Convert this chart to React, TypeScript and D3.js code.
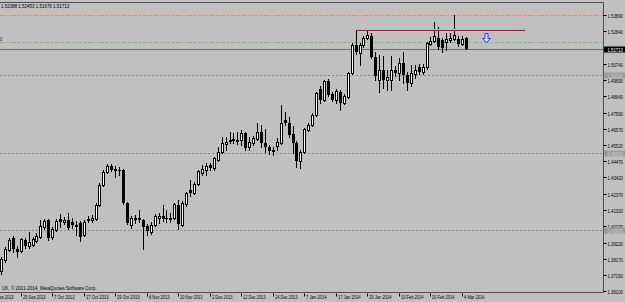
import { useRef, useEffect } from 'react';
import * as d3 from 'd3';

// trading calendar (daily bars)
const firstDay = '2013-09-13';
const lastDay = '2014-03-05';
const holidays = ['2013-12-25', '2014-01-01'];
const firstCandleDay = 3; // candles start on 18 Sep 2013
const labelEvery = 8;

const open = [
  1.3738, 1.3809, 1.3873, 1.3951, 1.3880, 1.3867, 1.3938, 1.3899, 1.3906, 1.3931,
  1.3957, 1.4022, 1.4067, 1.3957, 1.4002, 1.4073, 1.4054, 1.4067, 1.4054, 1.4035,
  1.4047, 1.3970, 1.4067, 1.4067, 1.4073, 1.4164, 1.4293, 1.4376, 1.4415, 1.4396,
  1.4389, 1.4389, 1.4176, 1.4035, 1.4073, 1.4080, 1.4067, 1.4028, 1.3989, 1.4035,
  1.4080, 1.4093, 1.4080, 1.4073, 1.4080, 1.4164, 1.4035, 1.4170, 1.4260, 1.4241,
  1.4299, 1.4370, 1.4389, 1.4422, 1.4402, 1.4454, 1.4505, 1.4557, 1.4576, 1.4589,
  1.4576, 1.4583, 1.4628, 1.4538, 1.4563, 1.4589, 1.4634, 1.4563, 1.4538, 1.4518,
  1.4544, 1.4563, 1.4712, 1.4692, 1.4622, 1.4563, 1.4447, 1.4505, 1.4647, 1.4680,
  1.4744, 1.4912, 1.4841, 1.4963, 1.4880, 1.4841, 1.4892, 1.4821, 1.4860, 1.5015,
  1.5196, 1.5144, 1.5196, 1.5241, 1.5254, 1.5118, 1.4970, 1.5034, 1.4970, 1.4970,
  1.5034, 1.5015, 1.5079, 1.5002, 1.4950, 1.5008, 1.5054, 1.5021, 1.5054, 1.5202,
  1.5221, 1.5241, 1.5228, 1.5215, 1.5228, 1.5234, 1.5234, 1.5202, 1.52388
];
const high = [
  1.3828, 1.3893, 1.3951, 1.3964, 1.3899, 1.3951, 1.3951, 1.3989, 1.3957, 1.3983,
  1.4067, 1.4073, 1.4073, 1.4022, 1.4073, 1.4106, 1.4086, 1.4112, 1.4080, 1.4060,
  1.4060, 1.4067, 1.4093, 1.4099, 1.4176, 1.4305, 1.4389, 1.4428, 1.4428, 1.4415,
  1.4409, 1.4396, 1.4183, 1.4093, 1.4099, 1.4131, 1.4073, 1.4041, 1.4054, 1.4106,
  1.4112, 1.4164, 1.4131, 1.4112, 1.4176, 1.4196, 1.4189, 1.4247, 1.4325, 1.4312,
  1.4389, 1.4422, 1.4434, 1.4434, 1.4473, 1.4538, 1.4602, 1.4602, 1.4634, 1.4628,
  1.4634, 1.4647, 1.4634, 1.4602, 1.4609, 1.4692, 1.4680, 1.4654, 1.4551, 1.4538,
  1.4596, 1.4809, 1.4763, 1.4731, 1.4673, 1.4576, 1.4518, 1.4660, 1.4692, 1.4757,
  1.4892, 1.4931, 1.4970, 1.4976, 1.4892, 1.4912, 1.4905, 1.4880, 1.5021, 1.5208,
  1.5292, 1.5208, 1.5254, 1.5292, 1.5273, 1.5150, 1.5131, 1.5125, 1.5034, 1.5125,
  1.5060, 1.5112, 1.5150, 1.5021, 1.5067, 1.5067, 1.5073, 1.5073, 1.5215, 1.5247,
  1.5344, 1.5312, 1.5241, 1.5273, 1.5273, 1.5389, 1.5254, 1.5254, 1.52453
];
const low = [
  1.3718, 1.3796, 1.3867, 1.3860, 1.3828, 1.3860, 1.3886, 1.3886, 1.3899, 1.3925,
  1.3951, 1.4009, 1.3938, 1.3944, 1.3996, 1.4022, 1.4041, 1.4009, 1.4015, 1.3970,
  1.3931, 1.3964, 1.4054, 1.4054, 1.4067, 1.4157, 1.4286, 1.4370, 1.4383, 1.4344,
  1.4357, 1.4170, 1.4041, 1.4015, 1.4047, 1.4054, 1.3880, 1.3970, 1.3976, 1.4028,
  1.4047, 1.4060, 1.4054, 1.4054, 1.4073, 1.4009, 1.4028, 1.4157, 1.4222, 1.4235,
  1.4293, 1.4357, 1.4357, 1.4389, 1.4389, 1.4447, 1.4499, 1.4518, 1.4563, 1.4563,
  1.4557, 1.4551, 1.4518, 1.4518, 1.4551, 1.4583, 1.4538, 1.4505, 1.4493, 1.4486,
  1.4518, 1.4557, 1.4680, 1.4602, 1.4499, 1.4409, 1.4402, 1.4499, 1.4641, 1.4673,
  1.4738, 1.4821, 1.4834, 1.4867, 1.4834, 1.4821, 1.4776, 1.4815, 1.4854, 1.5008,
  1.5137, 1.5067, 1.5183, 1.5234, 1.5112, 1.4970, 1.4892, 1.4918, 1.4905, 1.4905,
  1.4996, 1.4970, 1.4950, 1.4905, 1.4931, 1.4983, 1.5008, 1.5008, 1.5041, 1.5196,
  1.5215, 1.5170, 1.5150, 1.5163, 1.5215, 1.5228, 1.5189, 1.5196, 1.51679
];
const close = [
  1.3815, 1.3880, 1.3938, 1.3880, 1.3860, 1.3944, 1.3899, 1.3925, 1.3944, 1.3964,
  1.4028, 1.4060, 1.3951, 1.4009, 1.4060, 1.4054, 1.4067, 1.4015, 1.4035, 1.4022,
  1.3957, 1.4054, 1.4073, 1.4080, 1.4164, 1.4293, 1.4376, 1.4415, 1.4389, 1.4383,
  1.4383, 1.4176, 1.4047, 1.4080, 1.4080, 1.4067, 1.4022, 1.3996, 1.4035, 1.4093,
  1.4093, 1.4073, 1.4073, 1.4080, 1.4170, 1.4041, 1.4176, 1.4241, 1.4241, 1.4299,
  1.4383, 1.4396, 1.4415, 1.4402, 1.4467, 1.4505, 1.4563, 1.4570, 1.4583, 1.4576,
  1.4583, 1.4628, 1.4531, 1.4570, 1.4596, 1.4634, 1.4563, 1.4538, 1.4512, 1.4505,
  1.4570, 1.4692, 1.4692, 1.4615, 1.4563, 1.4447, 1.4505, 1.4654, 1.4680, 1.4744,
  1.4886, 1.4841, 1.4963, 1.4873, 1.4841, 1.4899, 1.4821, 1.4867, 1.5015, 1.5196,
  1.5150, 1.5196, 1.5241, 1.5260, 1.5118, 1.4996, 1.5034, 1.4970, 1.4989, 1.5034,
  1.5015, 1.5079, 1.5002, 1.4950, 1.5015, 1.5034, 1.5021, 1.5054, 1.5208, 1.5221,
  1.5254, 1.5183, 1.5176, 1.5234, 1.5241, 1.5260, 1.5202, 1.5234, 1.51713
];

const priceTicks = [
  1.5389, 1.5284, 1.5074, 1.4969, 1.4864, 1.4759, 1.4657, 1.4552, 1.4447,
  1.4342, 1.4237, 1.4132, 1.4027, 1.3922, 1.3817, 1.3715, 1.3610
];
const roundLevels = [1.5, 1.45, 1.4];
const resistance = 1.5389;
const support = 1.5213;
// trend line: [from bar, to bar], price
const trendBars = [90, 133];
const trendPrice = 1.5294;
const arrowBar = 123;
const arrowPrice = 1.5272;

const FONT = '"Liberation Sans", Arial, sans-serif';

const App: React.FC = () => {
  const svgRef = useRef<SVGSVGElement>(null);

  useEffect(() => {
    if (!svgRef.current) return;
    const svg = d3.select(svgRef.current);
    svg.selectAll('*').remove();

    const width = 625;
    const height = 302;
    const right = 603.5;
    const top = 2.5;
    const bottom = 292.5;

    const parse = d3.timeParse('%Y-%m-%d');
    const fmt = d3.timeFormat('%Y-%m-%d');
    const days = d3.timeDay
      .range(parse(firstDay)!, d3.timeDay.offset(parse(lastDay)!, 1))
      .filter(d => d.getDay() !== 0 && d.getDay() !== 6 && !holidays.includes(fmt(d)));

    const x = d3.scaleLinear().domain([0, open.length - 1]).range([1, 465.9]);
    const y = d3.scaleLinear().domain([1.361, 1.5389]).range([291, 15]);
    const py = (v: number) => Math.round(y(v)) + 0.5;

    const text = (str: string, tx: number, ty: number, fill = '#000', perChar = 2.15) =>
      svg.append('text')
        .attr('x', tx)
        .attr('y', ty)
        .attr('font-family', FONT)
        .attr('font-size', 5)
        .attr('fill', fill)
        .attr('textLength', str.length * perChar)
        .attr('lengthAdjust', 'spacingAndGlyphs')
        .text(str);

    svg.append('rect').attr('width', width).attr('height', height).attr('fill', '#c0c0c0');

    // round price levels
    roundLevels.forEach(v => {
      svg.append('line')
        .attr('x1', 0).attr('x2', right).attr('y1', py(v)).attr('y2', py(v))
        .attr('stroke', '#888').attr('stroke-dasharray', '2,2');
    });

    // bid line
    const last = close[close.length - 1];
    svg.append('line')
      .attr('x1', 0).attr('x2', right).attr('y1', py(last)).attr('y2', py(last))
      .attr('stroke', '#6e6e6e');

    // horizontal levels
    [[resistance, '#f28c66'], [support, '#7fb47f']].forEach(([v, c]) => {
      svg.append('line')
        .attr('x1', 0).attr('x2', right).attr('y1', py(v as number)).attr('y2', py(v as number))
        .attr('stroke', c as string).attr('stroke-width', 1).attr('stroke-dasharray', '5,2,2,2');
    });
    text('0', 0, 41);

    // candles
    const candles = svg.append('g');
    open.forEach((o, i) => {
      const c = close[i];
      const cx = Math.round(x(i));
      candles.append('line')
        .attr('x1', cx + 0.5).attr('x2', cx + 0.5)
        .attr('y1', Math.round(y(high[i]))).attr('y2', Math.round(y(low[i])) + 1)
        .attr('stroke', '#000');
      const t = Math.round(y(Math.max(o, c)));
      const b = Math.round(y(Math.min(o, c)));
      if (c >= o) {
        candles.append('rect')
          .attr('x', cx - 0.5).attr('y', t + 0.5)
          .attr('width', 2).attr('height', Math.max(b - t, 0))
          .attr('fill', '#fff').attr('stroke', '#000');
      } else {
        candles.append('rect')
          .attr('x', cx - 1).attr('y', t)
          .attr('width', 3).attr('height', Math.max(b - t, 1))
          .attr('fill', '#000');
      }
    });

    // trend line
    svg.append('line')
      .attr('x1', Math.round(x(trendBars[0]))).attr('x2', Math.round(x(trendBars[1])))
      .attr('y1', py(trendPrice) - 1).attr('y2', py(trendPrice) - 1)
      .attr('stroke', '#8ccbe6');
    svg.append('line')
      .attr('x1', Math.round(x(trendBars[0]))).attr('x2', Math.round(x(trendBars[1])))
      .attr('y1', py(trendPrice)).attr('y2', py(trendPrice))
      .attr('stroke', '#f00000');

    // down arrow
    const ax = Math.round(x(arrowBar)) + 0.5;
    const ay = py(arrowPrice);
    svg.append('path')
      .attr('d', `M${ax - 1.5},${ay}H${ax + 1.5}V${ay + 5}H${ax + 4}L${ax},${ay + 9}L${ax - 4},${ay + 5}H${ax - 1.5}Z`)
      .attr('fill', '#d4d8f0').attr('stroke', '#2a44ff').attr('stroke-width', 1);

    // frame
    svg.append('path')
      .attr('d', `M0,${top}H${right}V${bottom}H0`)
      .attr('fill', 'none').attr('stroke', '#505050');

    // price axis
    priceTicks.forEach(v => {
      const yy = py(v);
      svg.append('line').attr('x1', right).attr('x2', right + 3).attr('y1', yy).attr('y2', yy).attr('stroke', '#000');
      text(v.toFixed(5), 607.5, yy + 2, '#000', 2.2);
    });
    roundLevels.forEach(v => {
      const yy = py(v);
      svg.append('rect').attr('x', right + 0.5).attr('y', yy - 3).attr('width', 21).attr('height', 6).attr('fill', '#9c9c9c');
      text(v.toFixed(5), 607.5, yy + 2, '#c8c8c8', 2.2);
    });
    svg.append('rect').attr('x', right + 0.5).attr('y', py(last) - 3).attr('width', 21).attr('height', 6).attr('fill', '#000');
    text(last.toFixed(5), 607.5, py(last) + 2, '#fff', 2.2);

    // time axis
    days.forEach((d, k) => {
      if (k % labelEvery !== 0) return;
      const tx = Math.round(x(k - firstCandleDay)) + 0.5;
      svg.append('line').attr('x1', tx).attr('x2', tx).attr('y1', bottom + 1).attr('y2', bottom + 4).attr('stroke', '#000');
      text(d3.timeFormat('%-d %b %Y')(d), tx + 1.5, 299, '#000', 2.05);
    });

    const n = open.length - 1;
    text([open[n], high[n], low[n], close[n]].map(v => v.toFixed(5)).join(' '), 1, 8, '#000', 2.2);
    text('UK, © 2001-2014, MetaQuotes Software Corp.', 2, 290, '#000', 2.25);
  }, []);

  return (
    <svg
      ref={svgRef}
      width={625}
      height={302}
      style={{ position: 'absolute', left: 0, top: 0 }}
    />
  );
};

export default App;
